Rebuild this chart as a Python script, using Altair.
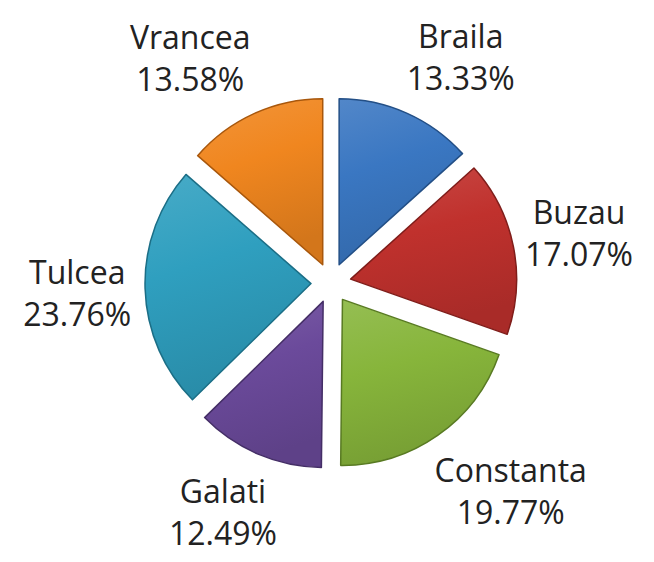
import altair as alt
import pandas as pd

# ---- data ----
regions = ["Braila", "Buzau", "Constanta", "Galati", "Tulcea", "Vrancea"]
shares = [13.33, 17.07, 19.77, 12.49, 23.76, 13.58]
fill_colors = ["#3a77c2", "#c0312d", "#87b53b", "#6b4a9b", "#2f9fbf", "#f0861f"]
edge_colors = ["#234f86", "#7f1d1a", "#587a22", "#442e66", "#1b6e86", "#a8570c"]

df = pd.DataFrame({"name": regions, "value": shares, "order": list(range(len(regions)))})


def shade(hex_color, f):
    """f>0 lightens towards white, f<0 darkens towards black."""
    h = hex_color.lstrip("#")
    rgb = [int(h[i:i + 2], 16) for i in (0, 2, 4)]
    if f >= 0:
        rgb = [round(c + (255 - c) * f) for c in rgb]
    else:
        rgb = [round(c * (1 + f)) for c in rgb]
    return "#" + "".join(f"{c:02x}" for c in rgb)


def gradient(c):
    return {
        "gradient": "linear", "x1": 0, "y1": 0, "x2": 0.25, "y2": 1,
        "stops": [
            {"offset": 0.0, "color": shade(c, 0.12)},
            {"offset": 0.45, "color": c},
            {"offset": 1.0, "color": shade(c, -0.12)},
        ],
    }


fill_enc = {
    "condition": [
        {"test": f"datum.name === '{n}'", "value": gradient(c)}
        for n, c in zip(regions[:-1], fill_colors[:-1])
    ],
    "value": gradient(fill_colors[-1]),
}

# ---- layout constants (pixels in plot area) ----
CX, CY = 323, 275      # pie centre
R = 166                # slice radius
EXPLODE = 20           # explosion distance
LINE = 21              # half line spacing of the two label lines

base = alt.Chart(df).transform_window(
    cum="sum(value)", sort=[alt.SortField("order")], frame=[None, 0]
).transform_joinaggregate(
    total="sum(value)"
).transform_calculate(
    a0="2*PI*(datum.cum - datum.value)/datum.total",
    a1="2*PI*datum.cum/datum.total",
).transform_calculate(
    m="(datum.a0 + datum.a1)/2",
    pct="format(datum.value, '.2f') + '%'",
).transform_calculate(
    cx=f"{CX} + {EXPLODE}*sin(datum.m)",
    cy=f"{CY} - {EXPLODE}*cos(datum.m)",
    gap="13 - 9*cos(datum.m)",
    hw="max(length(datum.name), length(datum.pct))*9.1",
).transform_calculate(
    px=f"{CX} + ({R + EXPLODE} + datum.gap)*sin(datum.m)",
    py=f"{CY} - ({R + EXPLODE} + datum.gap)*cos(datum.m)",
).transform_calculate(
    lx="datum.px + datum.hw*clamp((1.8 + 0.6*cos(datum.m))*sin(datum.m), -1, 1)",
    ly="datum.py + (45 + 5*cos(datum.m))*clamp(-1.5*cos(datum.m) + 0.1, -1, 1)",
)

slices = base.mark_arc(strokeWidth=1.5, strokeJoin="round").encode(
    theta=alt.Theta("a0:Q", scale=None),
    theta2="a1:Q",
    radius=alt.value(R),
    x=alt.X("cx:Q", scale=None),
    y=alt.Y("cy:Q", scale=None),
    fill=fill_enc,
    stroke=alt.Stroke("name:N", scale=alt.Scale(domain=regions, range=edge_colors), legend=None),
)

text_style = dict(font="Open Sans", fontSize=32, color="#222222", align="center", baseline="middle")

names = base.mark_text(dy=-LINE, **text_style).encode(
    x=alt.X("lx:Q", scale=None), y=alt.Y("ly:Q", scale=None), text="name:N"
)
pcts = base.mark_text(dy=LINE, **text_style).encode(
    x=alt.X("lx:Q", scale=None), y=alt.Y("ly:Q", scale=None), text="pct:N"
)

chart = alt.layer(slices, names, pcts).properties(
    width=638, height=546, padding=0,
    autosize=alt.AutoSizeParams(type="none"),
    background="white",
).configure_view(stroke=None)

chart.save("out.html", embed_options={"renderer": "svg", "actions": False})
